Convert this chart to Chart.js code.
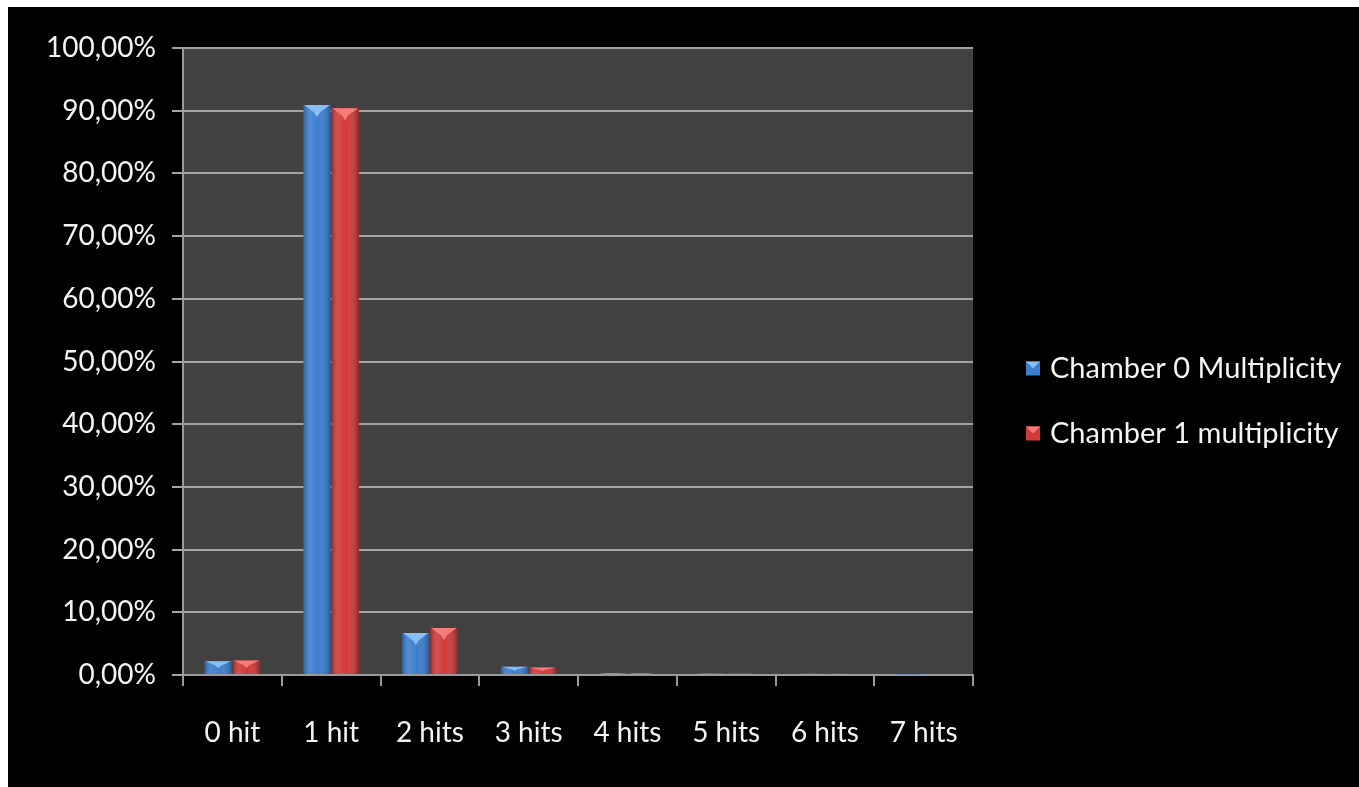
<!DOCTYPE html>
<html>
<head>
<meta charset="utf-8">
<title>Chamber multiplicity</title>
<script src="https://cdn.jsdelivr.net/npm/chart.js@4.4.1/dist/chart.umd.min.js"></script>
<style>
  html, body { margin: 0; padding: 0; background: #ffffff; }
  #frame { position: absolute; left: 8px; top: 7px; width: 1351px; height: 780px; background: #000000; }
  canvas { display: block; }
</style>
</head>
<body>
<div id="frame"><canvas id="chart" width="1351" height="780"></canvas></div>
<script>
// Hit multiplicity per event, in percent of events
const categories = ['0 hit', '1 hit', '2 hits', '3 hits', '4 hits', '5 hits', '6 hits', '7 hits'];
const chamber0 = [2.2, 90.9, 6.7, 1.3, 0.3, 0.25, 0.2, 0.1];
const chamber1 = [2.3, 90.4, 7.5, 1.2, 0.3, 0.25, 0.2, 0.0];
const seriesNames = ['Chamber 0 Multiplicity', 'Chamber 1 multiplicity'];
const yTickValues = [0, 10, 20, 30, 40, 50, 60, 70, 80, 90, 100];

const palette = [
  { base: '#3d7ed0', light: '#86bff5' },
  { base: '#d03a3a', light: '#f57d79' }
];
const textColor = '#f4f4f4';
const fontFamily = 'Lato, "Open Sans", sans-serif';
const fontSize = 28;
const legendFontSize = 29;

// Dark plot background behind the bars
const plotBackground = {
  id: 'plotBackground',
  beforeDraw(chart) {
    const { ctx, chartArea: a } = chart;
    ctx.save();
    ctx.fillStyle = '#414141';
    ctx.fillRect(a.left, a.top, a.right - a.left, a.bottom - a.top);
    ctx.restore();
  }
};

// Rounded-column shading and a bevelled top on every bar
const bevelBars = {
  id: 'bevelBars',
  afterDatasetsDraw(chart) {
    const ctx = chart.ctx;
    chart.data.datasets.forEach((ds, di) => {
      const meta = chart.getDatasetMeta(di);
      meta.data.forEach(bar => {
        const { x, y, base, width } = bar.getProps(['x', 'y', 'base', 'width'], true);
        const h = base - y;
        if (h <= 0) return;
        const l = x - width / 2, r = x + width / 2;
        ctx.save();
        const g = ctx.createLinearGradient(l, 0, r, 0);
        g.addColorStop(0, 'rgba(0,0,0,0.25)');
        g.addColorStop(0.25, 'rgba(255,255,255,0.10)');
        g.addColorStop(0.55, 'rgba(255,255,255,0.0)');
        g.addColorStop(1, 'rgba(0,0,0,0.32)');
        ctx.fillStyle = g;
        ctx.fillRect(l, y, width, h);
        const bh = Math.min(width * 0.45, h * 0.55);
        ctx.beginPath();
        ctx.moveTo(l + 1, y);
        ctx.lineTo(r - 1, y);
        ctx.lineTo(x + 3, y + bh * 0.6);
        ctx.lineTo(x, y + bh);
        ctx.lineTo(x - 3, y + bh * 0.6);
        ctx.closePath();
        ctx.fillStyle = palette[di].light;
        ctx.fill();
        ctx.restore();
      });
    });
  }
};

// Legend to the right of the plot, built from the dataset labels and colours
const sideLegend = {
  id: 'sideLegend',
  afterDraw(chart) {
    const { ctx, chartArea: a } = chart;
    const rowGap = 65;
    const cy = chart.height / 2 + 4;
    const n = chart.data.datasets.length;
    ctx.save();
    ctx.font = legendFontSize + 'px ' + fontFamily;
    ctx.textBaseline = 'middle';
    ctx.textAlign = 'left';
    chart.data.datasets.forEach((ds, i) => {
      const y = cy + (i - (n - 1) / 2) * rowGap;
      const x = a.right + 53;
      const s = 14;
      ctx.fillStyle = palette[i].base;
      ctx.fillRect(x, y - s / 2, s, s);
      ctx.beginPath();
      ctx.moveTo(x, y - s / 2);
      ctx.lineTo(x + s, y - s / 2);
      ctx.lineTo(x + s / 2, y);
      ctx.closePath();
      ctx.fillStyle = palette[i].light;
      ctx.fill();
      ctx.fillStyle = textColor;
      ctx.fillText(ds.label, x + 24, y);
    });
    ctx.restore();
  }
};

new Chart(document.getElementById('chart'), {
  type: 'bar',
  data: {
    labels: categories,
    datasets: [
      { label: seriesNames[0], data: chamber0, backgroundColor: palette[0].base, borderWidth: 0 },
      { label: seriesNames[1], data: chamber1, backgroundColor: palette[1].base, borderWidth: 0 }
    ]
  },
  options: {
    responsive: false,
    animation: false,
    devicePixelRatio: 1,
    datasets: { bar: { barPercentage: 0.97, categoryPercentage: 0.57 } },
    layout: { padding: { left: 34, right: 386, top: 41, bottom: 0 } },
    plugins: { legend: { display: false }, tooltip: { enabled: false } },
    scales: {
      x: {
        grid: { display: true, drawOnChartArea: false, drawTicks: true, tickLength: 11, color: '#9a9a9a', lineWidth: 2, offset: true },
        border: { display: true, color: '#9a9a9a', width: 2 },
        ticks: { color: textColor, font: { family: fontFamily, size: fontSize }, padding: 30, maxRotation: 0 },
        afterFit(scale) { scale.height = 112; }
      },
      y: {
        min: 0,
        max: 100,
        afterBuildTicks(scale) { scale.ticks = yTickValues.map(v => ({ value: v })); },
        grid: { color: '#a3a3a3', lineWidth: 2, tickLength: 11 },
        border: { display: true, color: '#9a9a9a', width: 2 },
        ticks: {
          color: textColor,
          font: { family: fontFamily, size: fontSize },
          padding: 16,
          callback: v => v.toFixed(2).replace('.', ',') + '%'
        },
        afterFit(scale) { scale.width = 141; }
      }
    }
  },
  plugins: [plotBackground, bevelBars, sideLegend]
});
</script>
</body>
</html>
